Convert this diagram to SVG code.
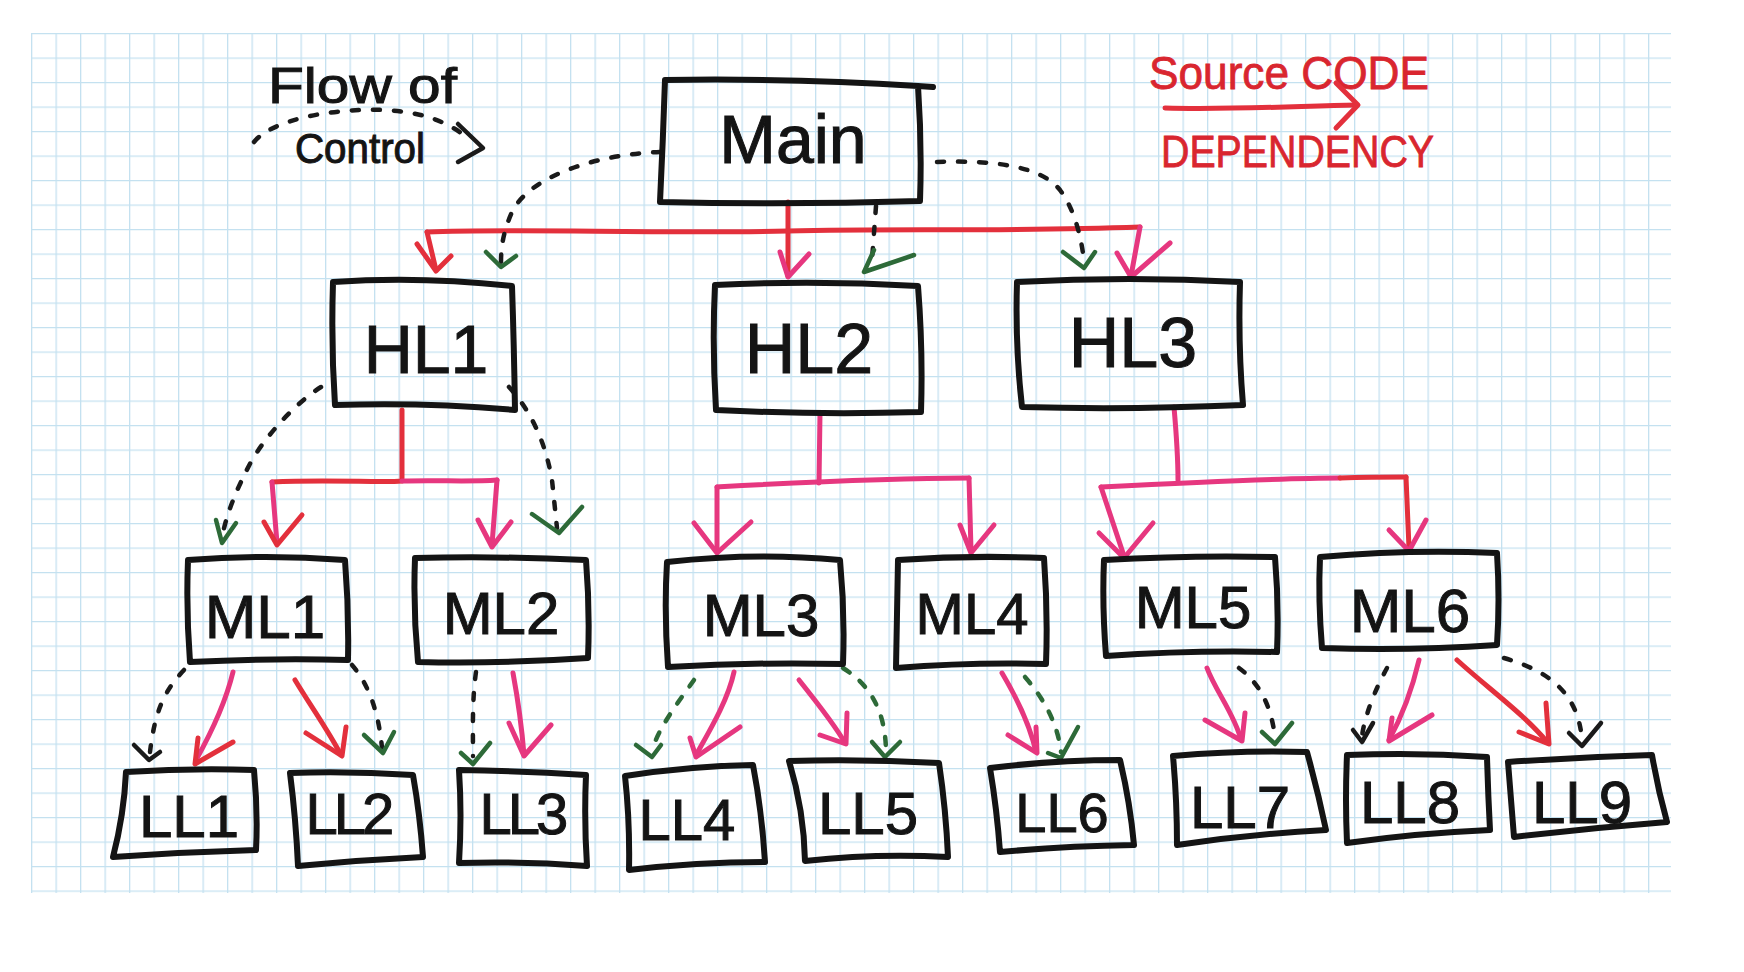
<svg xmlns="http://www.w3.org/2000/svg" width="1744" height="972" viewBox="0 0 1744 972">
<defs>
<pattern id="grid" x="31" y="33" width="24.5" height="24.5" patternUnits="userSpaceOnUse">
<path d="M0 0.6 H24.5 M0.6 0 V24.5" fill="none" stroke="#c4e1f0" stroke-width="1.4"/>
</pattern>
<style>
.box{fill:none;stroke:#141414;stroke-width:6;stroke-linejoin:round;stroke-linecap:round}
.lbl{font-family:"Liberation Sans",Arial,sans-serif;fill:#141414;stroke:#141414;stroke-width:1;text-anchor:middle}
.red{fill:none;stroke:#e3303c;stroke-width:5;stroke-linecap:round;stroke-linejoin:round}
.pink{fill:none;stroke:#e6377f;stroke-width:5;stroke-linecap:round;stroke-linejoin:round}
.flow{fill:none;stroke:#1a1a1a;stroke-width:4.5;stroke-dasharray:7 14;stroke-linecap:round}
.flowg{fill:none;stroke:#2d6a38;stroke-width:4.5;stroke-dasharray:8 13;stroke-linecap:round}
.ghead{fill:none;stroke:#2d6a38;stroke-width:4.5;stroke-linecap:round;stroke-linejoin:round}
.khead{fill:none;stroke:#1a1a1a;stroke-width:4.5;stroke-linecap:round;stroke-linejoin:round}
.leg{font-family:"Liberation Sans",Arial,sans-serif;fill:#d9262f;stroke:#d9262f;stroke-width:0.8}
</style>
</defs>
<rect width="1744" height="972" fill="#ffffff"/>
<rect x="31" y="33" width="1640" height="860" fill="url(#grid)"/>

<g id="legend-flow">
<text x="268" y="103" font-family="Liberation Sans, Arial, sans-serif" font-size="50" fill="#141414" stroke="#141414" stroke-width="1" textLength="189" lengthAdjust="spacingAndGlyphs">Flow of</text>
<text x="295" y="163" font-family="Liberation Sans, Arial, sans-serif" font-size="42" fill="#141414" stroke="#141414" stroke-width="1" textLength="130" lengthAdjust="spacingAndGlyphs">Control</text>
<path class="flow" d="M254 142 C272 120 330 108 385 110 C420 112 445 120 468 138"/>
<path class="khead" d="M458 124 L483 148 L458 162"/>
</g>

<g id="legend-dependency">
<text class="leg" x="1149" y="89" font-size="46" textLength="280" lengthAdjust="spacingAndGlyphs">Source CODE</text>
<path class="red" stroke-width="6" d="M1165 108 C1230 110 1300 106 1356 105"/>
<path class="red" stroke-width="6" d="M1336 83 L1358 105 L1336 128"/>
<text class="leg" x="1161" y="167" font-size="44" textLength="273" lengthAdjust="spacingAndGlyphs">DEPENDENCY</text>
</g>

<g id="connectors">
<path class="red" d="M788 202 L788 276"/>
<path class="red" d="M427 232 C520 228 650 234 788 231 C900 228 1000 232 1140 227"/>
<path class="red" d="M427 232 L436 270"/>
<path class="red" d="M417 244 L436 271 L451 256"/>
<path class="pink" d="M780 252 L788 277 L809 254"/>
<path class="pink" d="M1140 227 L1131 276"/>
<path class="pink" d="M1117 253 L1131 277 L1170 243"/>
<path class="flow" d="M660 152 C600 154 530 175 512 212 C504 230 501 245 501 262"/>
<path class="ghead" d="M486 252 L501 267 L516 256"/>
<path class="flow" d="M876 206 L872 260"/>
<path class="ghead" d="M874 250 L864 272 L914 255"/>
<path class="flow" d="M937 162 C990 160 1040 165 1060 190 C1075 210 1082 240 1084 262"/>
<path class="ghead" d="M1063 252 L1084 268 L1095 252"/>
<path class="red" d="M402 410 L402 478"/>
<path class="red" d="M272 482 C330 479 380 483 402 481"/>
<path class="pink" d="M402 481 C440 480 470 482 497 480"/>
<path class="pink" d="M272 482 L277 543"/>
<path class="red" d="M264 522 L277 545 L302 515"/>
<path class="pink" d="M497 480 L492 545"/>
<path class="pink" d="M478 520 L492 547 L511 522"/>
<path class="flow" d="M321 387 C300 400 270 430 252 460 C236 490 226 515 222 538"/>
<path class="ghead" d="M216 520 L222 543 L236 523"/>
<path class="flow" d="M509 387 C530 410 545 440 552 480 L557 528"/>
<path class="ghead" d="M532 514 L559 533 L582 507"/>
<path class="pink" d="M820 413 L819 483"/>
<path class="pink" d="M717 487 C790 483 880 478 969 478"/>
<path class="pink" d="M717 487 L717 550"/>
<path class="pink" d="M694 523 L717 553 L751 522"/>
<path class="pink" d="M969 478 L971 550"/>
<path class="pink" d="M960 525 L971 553 L994 525"/>
<path class="pink" d="M1174 407 C1176 430 1178 455 1178 480"/>
<path class="pink" d="M1101 487 C1200 482 1300 478 1340 478"/>
<path class="red" d="M1340 478 C1370 477 1390 477 1406 477"/>
<path class="pink" d="M1101 487 L1124 556"/>
<path class="pink" d="M1099 533 L1124 558 L1153 523"/>
<path class="red" d="M1406 477 L1409 548"/>
<path class="pink" d="M1389 530 L1409 551 L1426 520"/>
<path class="pink" d="M233 672 C225 705 210 735 196 760"/>
<path class="red" d="M233 742 L195 764 L198 738"/>
<path class="red" d="M295 680 C310 705 328 730 341 755"/>
<path class="red" d="M306 733 L342 756 L346 727"/>
<path class="flow" d="M184 670 C165 690 155 710 150 752"/>
<path class="khead" d="M134 745 L149 760 L160 752"/>
<path class="flow" d="M352 665 C365 680 378 705 382 748"/>
<path class="ghead" d="M364 735 L383 753 L394 732"/>
<path class="flow" d="M476 672 C472 700 473 730 473 756"/>
<path class="ghead" d="M461 753 L473 764 L490 743"/>
<path class="pink" d="M513 673 C518 700 522 730 524 755"/>
<path class="pink" d="M509 723 L524 756 L551 725"/>
<path class="flowg" d="M694 680 C680 700 660 725 652 750"/>
<path class="ghead" d="M636 745 L652 757 L661 745"/>
<path class="pink" d="M734 672 C728 700 710 730 696 755"/>
<path class="pink" d="M690 738 L696 757 L740 727"/>
<path class="pink" d="M799 680 C815 700 835 725 845 743"/>
<path class="pink" d="M820 735 L846 744 L847 713"/>
<path class="flowg" d="M843 668 C870 685 885 710 886 750"/>
<path class="ghead" d="M872 742 L885 757 L900 742"/>
<path class="pink" d="M1002 673 C1018 700 1030 725 1036 752"/>
<path class="pink" d="M1008 735 L1037 753 L1036 727"/>
<path class="flowg" d="M1025 677 C1045 700 1058 725 1061 752"/>
<path class="ghead" d="M1048 753 L1061 758 L1078 727"/>
<path class="pink" d="M1207 668 C1215 690 1235 715 1241 740"/>
<path class="pink" d="M1205 720 L1242 741 L1245 713"/>
<path class="flow" d="M1239 668 C1262 685 1272 710 1275 738"/>
<path class="ghead" d="M1262 732 L1275 744 L1292 723"/>
<path class="flow" d="M1387 668 C1375 690 1365 715 1362 736"/>
<path class="khead" d="M1353 730 L1362 742 L1373 723"/>
<path class="pink" d="M1419 660 C1412 690 1400 720 1389 740"/>
<path class="pink" d="M1432 715 L1389 741 L1392 718"/>
<path class="red" d="M1457 660 C1490 690 1525 715 1548 743"/>
<path class="red" d="M1519 732 L1549 744 L1546 703"/>
<path class="flow" d="M1504 658 C1545 670 1578 690 1582 740"/>
<path class="khead" d="M1569 733 L1582 746 L1601 723"/>
</g>

<g id="Main">
<path class="box" d="M665 80 Q790 78 918 86 L933 87 M918 86 Q922 145 920 201 Q790 205 660 202 Q663 140 665 80"/>
<text class="lbl" x="793" y="163" font-size="68">Main</text>
</g>
<g id="HL1">
<path class="box" d="M333 282 Q420 276 512 286 Q514 345 515 410 Q425 402 335 405 Q331 345 333 282 Z"/>
<text class="lbl" x="426" y="373" font-size="68">HL1</text>
</g>
<g id="HL2">
<path class="box" d="M715 285 Q815 280 918 286 Q923 350 921 412 Q818 415 716 410 Q712 345 715 285 Z"/>
<text class="lbl" x="809" y="373" font-size="70">HL2</text>
</g>
<g id="HL3">
<path class="box" d="M1017 282 Q1130 276 1240 282 Q1238 345 1243 405 Q1130 410 1022 407 Q1015 345 1017 282 Z"/>
<text class="lbl" x="1133" y="367" font-size="70">HL3</text>
</g>
<g id="ML1">
<path class="box" d="M188 560 Q265 554 345 560 Q349 610 348 660 Q270 658 190 662 Q186 610 188 560 Z"/>
<text class="lbl" x="265" y="638" font-size="62">ML1</text>
</g>
<g id="ML2">
<path class="box" d="M415 558 Q500 556 586 560 Q590 610 588 658 Q500 664 418 662 Q413 610 415 558 Z"/>
<text class="lbl" x="501" y="634" font-size="60">ML2</text>
</g>
<g id="ML3">
<path class="box" d="M667 562 Q755 552 840 560 Q845 612 843 664 Q755 662 668 667 Q664 612 667 562 Z"/>
<text class="lbl" x="761" y="636" font-size="60">ML3</text>
</g>
<g id="ML4">
<path class="box" d="M898 560 Q970 555 1044 558 Q1048 612 1046 664 Q970 662 896 668 Q897 612 898 560 Z"/>
<text class="lbl" x="972" y="634" font-size="58">ML4</text>
</g>
<g id="ML5">
<path class="box" d="M1104 560 Q1190 555 1275 557 Q1279 605 1277 652 Q1190 650 1106 656 Q1102 605 1104 560 Z"/>
<text class="lbl" x="1193" y="628" font-size="60">ML5</text>
</g>
<g id="ML6">
<path class="box" d="M1320 557 Q1410 549 1497 553 Q1500 600 1497 645 Q1410 651 1322 648 Q1318 600 1320 557 Z"/>
<text class="lbl" x="1410" y="632" font-size="62">ML6</text>
</g>
<g id="LL1">
<path class="box" d="M126 772 Q190 768 254 770 Q258 812 256 850 Q185 852 113 857 Q124 815 126 772 Z"/>
<text class="lbl" x="189" y="837" font-size="60">LL1</text>
</g>
<g id="LL2">
<path class="box" d="M290 773 Q350 771 413 775 Q420 815 423 857 Q360 860 298 866 Q296 820 290 773 Z"/>
<text class="lbl" x="348" y="834" font-size="58" letter-spacing="-4">LL2</text>
</g>
<g id="LL3">
<path class="box" d="M459 770 Q522 771 586 775 Q584 820 587 866 Q522 861 459 863 Q462 815 459 770 Z"/>
<text class="lbl" x="522" y="834" font-size="58" letter-spacing="-4">LL3</text>
</g>
<g id="LL4">
<path class="box" d="M625 776 Q690 766 753 765 Q762 812 765 862 Q697 862 629 870 Q630 822 625 776 Z"/>
<text class="lbl" x="687" y="840" font-size="58">LL4</text>
</g>
<g id="LL5">
<path class="box" d="M789 761 Q865 759 939 763 Q946 810 948 857 Q876 853 805 861 Q804 810 789 761 Z"/>
<text class="lbl" x="868" y="834" font-size="60">LL5</text>
</g>
<g id="LL6">
<path class="box" d="M990 768 Q1055 760 1120 760 Q1130 802 1134 845 Q1066 846 1000 852 Q997 810 990 768 Z"/>
<text class="lbl" x="1062" y="832" font-size="56">LL6</text>
</g>
<g id="LL7">
<path class="box" d="M1173 756 Q1240 750 1307 752 Q1318 792 1326 830 Q1250 834 1177 845 Q1177 800 1173 756 Z"/>
<text class="lbl" x="1240" y="828" font-size="60">LL7</text>
</g>
<g id="LL8">
<path class="box" d="M1347 755 Q1417 752 1487 757 Q1488 793 1490 830 Q1418 833 1347 843 Q1345 800 1347 755 Z"/>
<text class="lbl" x="1410" y="823" font-size="60">LL8</text>
</g>
<g id="LL9">
<path class="box" d="M1508 762 Q1580 757 1652 755 Q1658 790 1667 822 Q1590 828 1514 837 Q1511 800 1508 762 Z"/>
<text class="lbl" x="1582" y="823" font-size="60">LL9</text>
</g>
</svg>
